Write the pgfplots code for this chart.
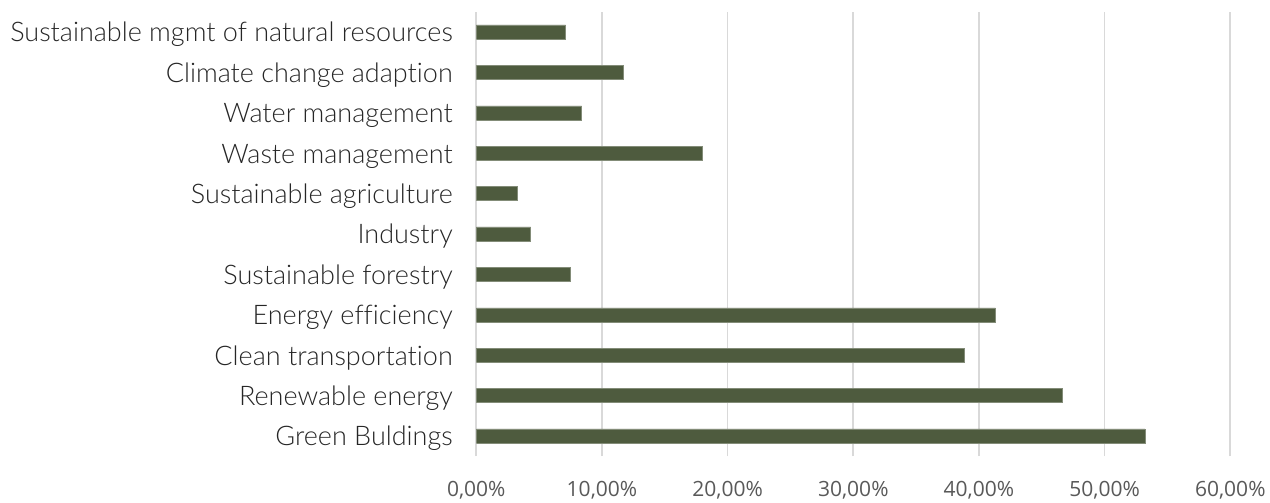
\documentclass[border=0pt]{standalone}
\usepackage{fontspec}
\setmainfont{Open Sans}
\newfontfamily\catfont{Lato}[UprightFont=* Light, Ligatures={NoCommon}]
\usepackage{pgfplots}
\pgfplotsset{compat=1.18}
\definecolor{barc}{HTML}{4E5B3E}
\definecolor{gridc}{HTML}{D9D9D9}
\definecolor{tickc}{HTML}{595959}
\definecolor{catc}{HTML}{262626}
\begin{document}
\begin{tikzpicture}
\path (-476.3pt,-41.8pt) rectangle (793.7pt,456.2pt);
\begin{axis}[
  at={(0pt,0pt)}, anchor=south west,
  scale only axis, width=754pt, height=444.4pt,
  xbar, bar width=14pt,
  xmin=0, xmax=60, ymin=-0.5, ymax=10.5,
  axis line style={draw=none},
  xmajorgrids, grid style={draw=gridc, line width=1.6pt},
  xtick={0,10,20,30,40,50,60},
  xticklabels={{0,00\%},{10,00\%},{20,00\%},{30,00\%},{40,00\%},{50,00\%},{60,00\%}},
  ytick={0,1,2,3,4,5,6,7,8,9,10},
  yticklabels={Green Buldings,Renewable energy,Clean transportation,Energy efficiency,Sustainable forestry,Industry,Sustainable agriculture,Waste management,Water management,Climate change adaption,Sustainable mgmt of natural resources},
  major tick length=0pt,
  xticklabel style={font=\fontsize{21}{25}\selectfont, text=tickc, anchor=base, yshift=-40pt},
  yticklabel style={font=\catfont\fontsize{27}{32}\selectfont, text=catc, anchor=base east, xshift=-20pt, yshift=-10pt},
]
\addplot[fill=barc, draw=barc!70!white, line width=0.5pt] coordinates {
(53.2,0) (46.6,1) (38.85,2) (41.3,3) (7.5,4) (4.33,5) (3.26,6) (18.0,7) (8.38,8) (11.7,9) (7.11,10)};
\end{axis}
\end{tikzpicture}
\end{document}
